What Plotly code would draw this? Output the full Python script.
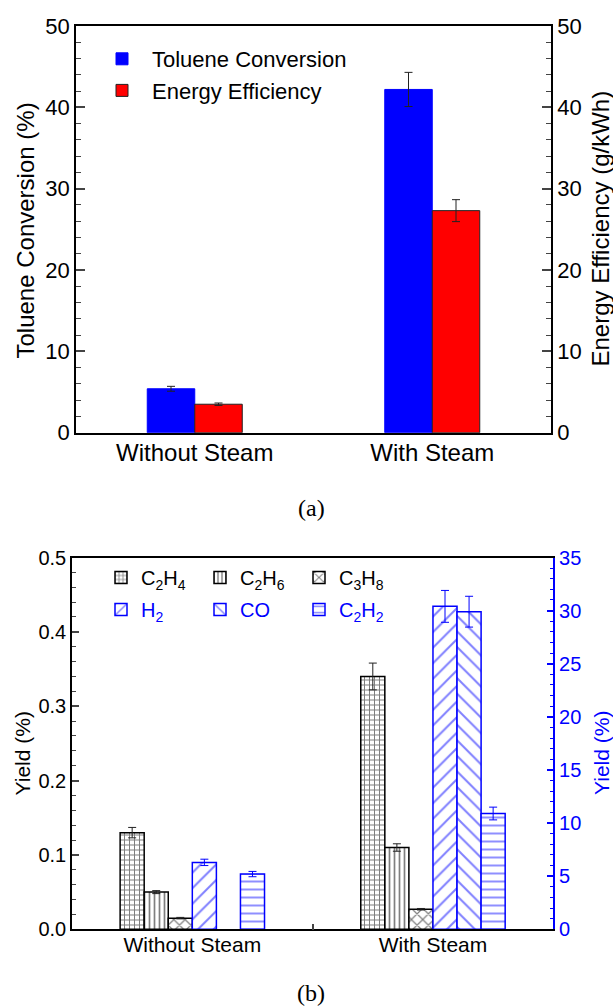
import plotly.graph_objects as go

# ---------------- data ----------------
categories = ["Without Steam", "With Steam"]

toluene_conv = [5.4, 42.2]
toluene_err = [0.3, 2.1]
energy_eff = [3.5, 27.3]
energy_err = [0.15, 1.35]

c2h4 = [0.130, 0.340]
c2h4_err = [0.007, 0.018]
c2h6 = [0.050, 0.110]
c2h6_err = [0.002, 0.005]
c3h8 = [0.015, 0.027]
c3h8_err = [0.001, 0.001]
h2 = [6.3, 30.4]
h2_err = [0.3, 1.5]
co = [None, 29.9]
co_err = [0, 1.45]
c2h2 = [5.2, 10.9]
c2h2_err = [0.25, 0.6]

FONT = "Liberation Sans, Arial, sans-serif"
SERIF = "Liberation Serif, Times New Roman, serif"
BLUE = "#0000ff"

fig = go.Figure()

# ---------------- top chart ----------------
fig.add_trace(go.Bar(
    x=categories, y=toluene_conv, name="Toluene Conversion",
    xaxis="x", yaxis="y", width=0.2, offset=-0.2,
    marker=dict(color=BLUE, line=dict(color=BLUE, width=1)),
    error_y=dict(type="data", array=toluene_err, color="#222", thickness=1, width=4),
    legend="legend"))
fig.add_trace(go.Bar(
    x=categories, y=energy_eff, name="Energy Efficiency",
    xaxis="x", yaxis="y2", width=0.2, offset=0.0,
    marker=dict(color="#ff0000", line=dict(color="#222", width=1)),
    error_y=dict(type="data", array=energy_err, color="#222", thickness=1, width=4),
    legend="legend"))

# ---------------- bottom chart ----------------
black_series = [
    ("C<sub>2</sub>H<sub>4</sub>", c2h4, c2h4_err, "+", 5, 0.36),
    ("C<sub>2</sub>H<sub>6</sub>", c2h6, c2h6_err, "|", 5, 0.34),
    ("C<sub>3</sub>H<sub>8</sub>", c3h8, c3h8_err, "x", 8, 0.28),
]
blue_series = [
    ("H<sub>2</sub>", h2, h2_err, "/", 11, 0.18),
    ("CO", co, co_err, "\\", 11, 0.18),
    ("C<sub>2</sub>H<sub>2</sub>", c2h2, c2h2_err, "-", 8, 0.22),
]
for i, (nm, vals, errs, shp, sz, sol) in enumerate(black_series):
    fig.add_trace(go.Bar(
        x=categories, y=vals, name=nm, xaxis="x2", yaxis="y3",
        width=0.1, offset=-0.3 + 0.1 * i,
        marker=dict(color="white", line=dict(color="black", width=1.5),
                    pattern=dict(shape=shp, fgcolor="black", bgcolor="white",
                                 size=sz, solidity=sol, fillmode="overlay")),
        error_y=dict(type="data", array=errs, color="#222", thickness=1, width=4),
        legend="legend2"))
for i, (nm, vals, errs, shp, sz, sol) in enumerate(blue_series):
    fig.add_trace(go.Bar(
        x=categories, y=vals, name=nm, xaxis="x2", yaxis="y4",
        width=0.1, offset=0.0 + 0.1 * i,
        marker=dict(color="white", line=dict(color=BLUE, width=1.5),
                    pattern=dict(shape=shp, fgcolor=BLUE, bgcolor="white",
                                 size=sz, solidity=sol, fillmode="overlay")),
        error_y=dict(type="data", array=errs, color=BLUE, thickness=1, width=4),
        legend="legend3"))

W, H = 613, 1007
def px_x(a, b):
    return [a / W, b / W]
def px_y(top, bottom):
    return [(H - bottom) / H, (H - top) / H]

axis_common = dict(showgrid=False, zeroline=False, showline=True, linewidth=1.5,
                   automargin=False)

def vtitle(text, xpx, ypx, size, color="black"):
    return dict(text=text, x=xpx / W, y=(H - ypx) / H, xref="paper", yref="paper",
                xanchor="center", yanchor="middle", textangle=-90, showarrow=False,
                font=dict(family=FONT, size=size, color=color))

fig.update_layout(
    width=W, height=H,
    margin=dict(l=0, r=0, t=0, b=0),
    paper_bgcolor="white", plot_bgcolor="white",
    font=dict(family=FONT, color="black", size=22),
    barmode="overlay",
    showlegend=True,
    xaxis=dict(**axis_common, domain=px_x(76, 551), anchor="y", type="category",
               range=[-0.5, 1.5], linecolor="black", mirror=True, ticks="",
               tickfont=dict(size=24), ticklabelstandoff=-2),
    yaxis=dict(**axis_common, domain=px_y(26, 432.7), anchor="x", range=[0, 50],
               dtick=10, linecolor="black", ticks="inside", ticklen=9, tickwidth=1.5,
               minor=dict(dtick=2, ticks="inside", ticklen=5, tickwidth=1.2),
               tickfont=dict(size=22)),
    yaxis2=dict(**axis_common, overlaying="y", side="right", anchor="x", range=[0, 50],
                dtick=10, linecolor="black", ticks="inside", ticklen=9, tickwidth=1.5,
                minor=dict(dtick=2, ticks="inside", ticklen=5, tickwidth=1.2),
                tickfont=dict(size=22)),
    xaxis2=dict(**axis_common, domain=px_x(72, 553.3), anchor="y3", type="category",
                range=[-0.5, 1.5], linecolor="black", mirror=True,
                ticks="inside", tickson="boundaries", ticklen=6, tickwidth=1.5,
                tickfont=dict(size=21), ticklabelstandoff=-4),
    yaxis3=dict(**axis_common, domain=px_y(557.5, 929.3), anchor="x2", range=[0, 0.5],
                dtick=0.1, tickformat=".1f", linecolor="black", ticks="inside",
                ticklen=7, tickwidth=1.5,
                minor=dict(dtick=0.02, ticks="inside", ticklen=4, tickwidth=1.2),
                tickfont=dict(size=20)),
    yaxis4=dict(**axis_common, overlaying="y3", side="right", anchor="x2", range=[0, 35],
                dtick=5, linecolor=BLUE, ticks="inside", tickcolor=BLUE,
                ticklen=7, tickwidth=1.5,
                minor=dict(dtick=1, ticks="inside", ticklen=4, tickwidth=1.2, tickcolor=BLUE),
                tickfont=dict(size=20, color=BLUE)),
    legend=dict(x=92 / W, y=(H - 38) / H, xanchor="left", yanchor="top",
                orientation="v", bgcolor="rgba(0,0,0,0)", itemwidth=50,
                font=dict(size=22), tracegroupgap=0),
    legend2=dict(x=101 / W, y=(H - 558) / H, xanchor="left", yanchor="top",
                 orientation="h", bgcolor="rgba(0,0,0,0)", entrywidth=54,
                 entrywidthmode="pixels", font=dict(size=20, color="black")),
    legend3=dict(x=101 / W, y=(H - 590) / H, xanchor="left", yanchor="top",
                 orientation="h", bgcolor="rgba(0,0,0,0)", entrywidth=54,
                 entrywidthmode="pixels", font=dict(size=20, color=BLUE)),
    annotations=[
        vtitle("Toluene Conversion (%)", 25, 230.5, 24),
        vtitle("Energy Efficiency (g/kWh)", 600, 228.5, 24),
        vtitle("Yield (%)", 21.5, 754, 21),
        vtitle("Yield (%)", 601, 753, 21, BLUE),
        dict(text="(a)", x=311 / W, y=(H - 508) / H, xref="paper", yref="paper",
             xanchor="center", yanchor="middle", showarrow=False,
             font=dict(family=SERIF, size=24, color="black")),
        dict(text="(b)", x=311 / W, y=(H - 993) / H, xref="paper", yref="paper",
             xanchor="center", yanchor="middle", showarrow=False,
             font=dict(family=SERIF, size=24, color="black")),
    ],
)

fig.write_html("out.html",
               config={"displayModeBar": False},
               post_script="document.body.style.margin='0';"
                           "document.body.style.overflow='hidden';")
